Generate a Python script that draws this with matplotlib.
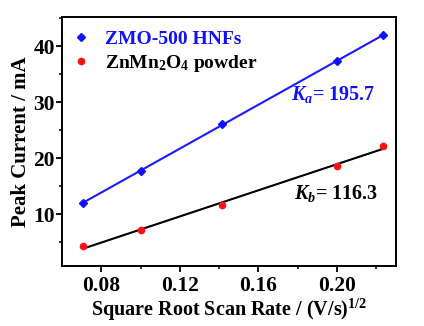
import numpy as np
import matplotlib
matplotlib.use("Agg")
import matplotlib.pyplot as plt

# Data
scan_rate_sqrt = [0.0707, 0.1000, 0.1414, 0.2000, 0.2236]
hnfs_current = [12.0, 17.8, 26.1, 37.3, 42.0]
powder_current = [4.3, 7.2, 11.6, 18.7, 22.2]
ka_label = "195.7"
kb_label = "116.3"
x_ticks = [0.08, 0.12, 0.16, 0.20]
y_ticks = [10, 20, 30, 40]

plt.rcParams['font.family'] = ['Liberation Serif', 'DejaVu Serif']
plt.rcParams['font.weight'] = 'bold'
plt.rcParams['mathtext.fontset'] = 'custom'
plt.rcParams['mathtext.rm'] = 'Liberation Serif:bold'
plt.rcParams['mathtext.it'] = 'Liberation Serif:bold:italic'
plt.rcParams['mathtext.bf'] = 'Liberation Serif:bold'

fig = plt.figure(figsize=(4.24, 3.26), dpi=100)
ax = fig.add_axes([0.146, 0.184, 0.788, 0.764])

x = np.array(scan_rate_sqrt)
xf = np.array([x.min(), x.max()])
pa = np.polyfit(x, hnfs_current, 1)
pb = np.polyfit(x, powder_current, 1)

ax.plot(xf, np.polyval(pa, xf), color='#1a1aff', lw=1.5, zorder=2)
ax.plot(xf, np.polyval(pb, xf), color='black', lw=1.5, zorder=2)
ax.plot(x, hnfs_current, linestyle='none', marker='D', ms=4, color='#1010ff',
        label='ZMO-500 HNFs', zorder=3)
ax.plot(x, powder_current, linestyle='none', marker='o', ms=4.5, color='#ff1010',
        label=r'ZnMn$_2$O$_4$ powder', zorder=3)

ax.set_xlim(0.060, 0.230)
ax.set_ylim(0.8, 45.2)
ax.set_xticks(x_ticks)
ax.set_xticklabels([f"{t:.2f}" for t in x_ticks])
ax.set_yticks(y_ticks)
ax.set_xticks([0.10, 0.14, 0.18, 0.22], minor=True)
ax.set_yticks([5, 15, 25, 35, 45], minor=True)
ax.tick_params(axis='both', which='major', direction='out', length=4, width=1.3,
               labelsize=15.5, top=False, right=False, pad=1)
ax.tick_params(axis='x', which='major', pad=3)
ax.tick_params(axis='both', which='minor', direction='out', length=2.5, width=1.1,
               top=False, right=False)
for s in ax.spines.values():
    s.set_linewidth(1.4)

ax.set_xlabel(r'Square Root Scan Rate / (V/s)$^{\mathdefault{1/2}}$', fontsize=14.5,
              fontweight='bold', labelpad=1)
ax.set_ylabel('Peak Current / mA', fontsize=15, fontweight='bold', labelpad=2)

leg = ax.legend(loc='upper left', frameon=False, fontsize=14, handlelength=0.6,
                handletextpad=0.9, borderaxespad=0.3, labelspacing=0.25,
                bbox_to_anchor=(0.0, 1.0))
leg.get_texts()[0].set_color('#1010ff')

ax.text(0.811, 0.687, r'$K_a$' + f'= {ka_label}', transform=ax.transAxes, color='#1010ff',
        fontsize=14.5, fontweight='bold', ha='center', va='center')
ax.text(0.822, 0.293, r'$K_b$' + f'= {kb_label}', transform=ax.transAxes, color='black',
        fontsize=14.5, fontweight='bold', ha='center', va='center')

fig.savefig('out.png', dpi=100)
